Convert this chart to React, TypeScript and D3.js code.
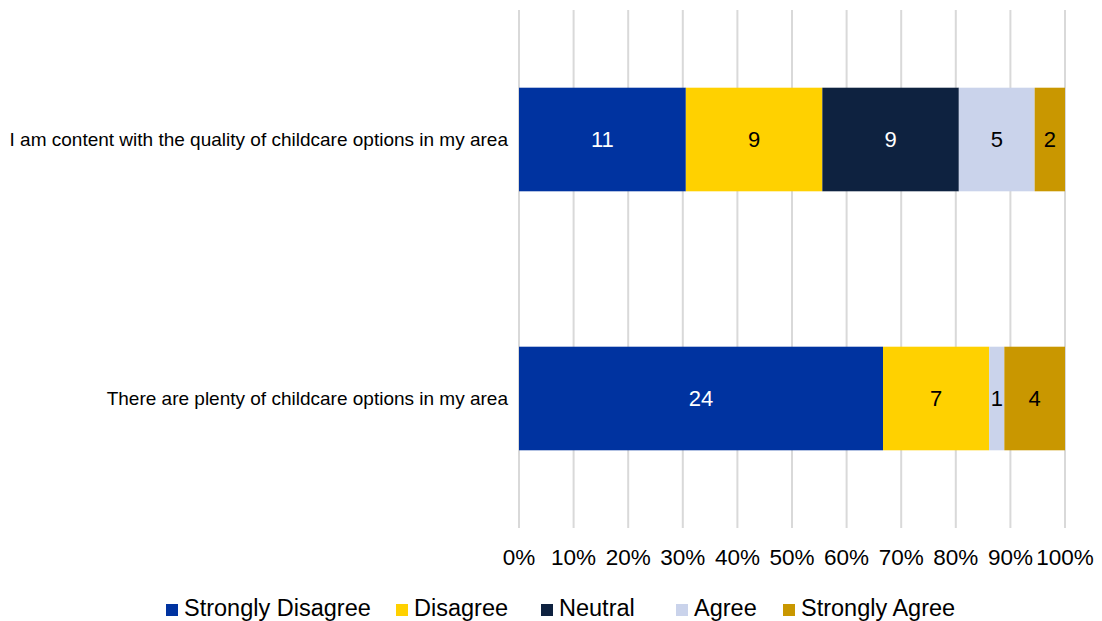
import React from "react";
import * as d3 from "d3";

const categories = [
  "I am content with the quality of childcare options in my area",
  "There are plenty of childcare options in my area",
];
const seriesNames = ["Strongly Disagree", "Disagree", "Neutral", "Agree", "Strongly Agree"];
const stronglyDisagree = [11, 24];
const disagree = [9, 7];
const neutral = [9, 0];
const agree = [5, 1];
const stronglyAgree = [2, 4];
const tickValues = [0, 0.1, 0.2, 0.3, 0.4, 0.5, 0.6, 0.7, 0.8, 0.9, 1.0];

const colors = ["#0033A0", "#FFD100", "#0E2240", "#CAD3EB", "#C99700"];
const labelColors = ["#ffffff", "#000000", "#ffffff", "#000000", "#000000"];
const legendX = [166, 396, 541, 676, 783];

export default function App() {
  const W = 1102, H = 621;
  const x0 = 519, x1 = 1065, yTop = 10, yBot = 528;
  const x = d3.scaleLinear().domain([0, 1]).range([x0, x1]);
  const y = d3.scaleBand<string>().domain(categories).range([yTop, yBot]).padding(0);
  const barH = y.bandwidth() * 0.4;
  const series = [stronglyDisagree, disagree, neutral, agree, stronglyAgree];
  const font = "'Liberation Sans', Arial, sans-serif";

  return (
    <svg width={W} height={H} style={{ position: "absolute", left: 0, top: 0, background: "#fff" }} fontFamily={font}>
      {tickValues.map((t) => (
        <line key={t} x1={x(t)} x2={x(t)} y1={yTop} y2={yBot} stroke="#d9d9d9" strokeWidth={2} />
      ))}
      {categories.map((c, i) => {
        const total = series.reduce((s, arr) => s + arr[i], 0);
        let acc = 0;
        const cy = (y(c) as number) + y.bandwidth() / 2;
        return (
          <g key={c}>
            {series.map((arr, k) => {
              const v = arr[i];
              const start = acc / total;
              acc += v;
              const end = acc / total;
              if (v === 0) return null;
              const xs = x(start), xe = x(end);
              return (
                <g key={k}>
                  <rect x={xs} y={cy - barH / 2} width={xe - xs} height={barH} fill={colors[k]} />
                  <text x={(xs + xe) / 2} y={cy} dy="0.35em" textAnchor="middle" fontSize={22} fill={labelColors[k]}>
                    {v}
                  </text>
                </g>
              );
            })}
            <text x={508} y={cy} dy="0.35em" textAnchor="end" fontSize={19} fill="#000">
              {c}
            </text>
          </g>
        );
      })}
      {tickValues.map((t) => (
        <text key={"l" + t} x={x(t)} y={565} textAnchor="middle" fontSize={22.5} fill="#000">
          {d3.format(".0%")(t)}
        </text>
      ))}
      {seriesNames.map((n, k) => (
        <g key={n}>
          <rect x={legendX[k]} y={604} width={12} height={12} fill={colors[k]} />
          <text x={legendX[k] + 18} y={616} fontSize={23.5} fill="#000">
            {n}
          </text>
        </g>
      ))}
    </svg>
  );
}
